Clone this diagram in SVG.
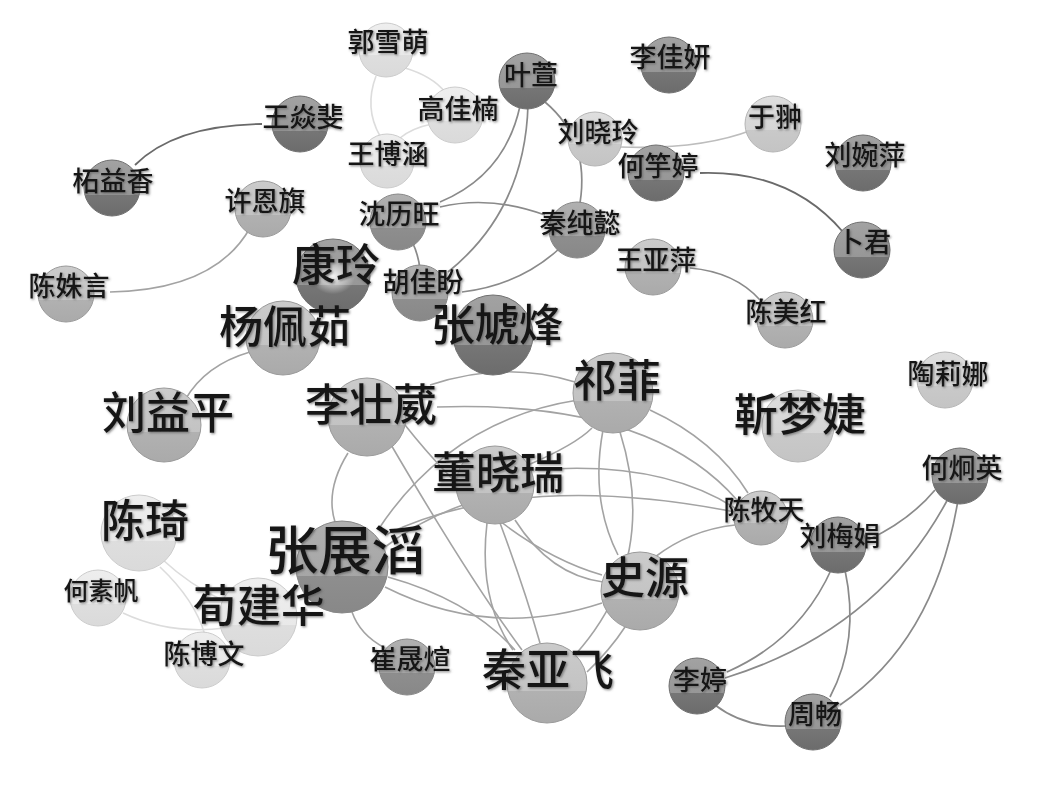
<svg xmlns="http://www.w3.org/2000/svg" width="1038" height="789" viewBox="0 0 1038 789">
<defs>
<linearGradient id="gL" x1="0" y1="0" x2="0" y2="1"><stop offset="0" stop-color="#eeeeee"/><stop offset="0.6" stop-color="#e9e9e9"/><stop offset="0.6" stop-color="#dedede"/><stop offset="1" stop-color="#dadada"/></linearGradient>
<linearGradient id="gL2" x1="0" y1="0" x2="0" y2="1"><stop offset="0" stop-color="#dedede"/><stop offset="0.6" stop-color="#d6d6d6"/><stop offset="0.6" stop-color="#c9c9c9"/><stop offset="1" stop-color="#c4c4c4"/></linearGradient>
<linearGradient id="gM" x1="0" y1="0" x2="0" y2="1"><stop offset="0" stop-color="#cbcbcb"/><stop offset="0.6" stop-color="#c3c3c3"/><stop offset="0.6" stop-color="#b1b1b1"/><stop offset="1" stop-color="#aaaaaa"/></linearGradient>
<linearGradient id="gMD" x1="0" y1="0" x2="0" y2="1"><stop offset="0" stop-color="#b0b0b0"/><stop offset="0.6" stop-color="#a6a6a6"/><stop offset="0.6" stop-color="#8e8e8e"/><stop offset="1" stop-color="#888888"/></linearGradient>
<linearGradient id="gD" x1="0" y1="0" x2="0" y2="1"><stop offset="0" stop-color="#a2a2a2"/><stop offset="0.62" stop-color="#979797"/><stop offset="0.62" stop-color="#767676"/><stop offset="1" stop-color="#6c6c6c"/></linearGradient>
<radialGradient id="gHi" cx="0.5" cy="0.45" r="0.5"><stop offset="0" stop-color="#ffffff" stop-opacity="0.9"/><stop offset="0.45" stop-color="#ffffff" stop-opacity="0.5"/><stop offset="1" stop-color="#ffffff" stop-opacity="0"/></radialGradient>
<filter id="sh" x="-10%" y="-20%" width="120%" height="140%"><feDropShadow dx="1.2" dy="1.2" stdDeviation="0.9" flood-color="#5a5a5a" flood-opacity="0.7"/></filter>
</defs>
<style>
.e{fill:none;stroke:#a3a3a3;stroke-width:1.6}
.ed{fill:none;stroke:#6a6a6a;stroke-width:1.8}
.em{fill:none;stroke:#8a8a8a;stroke-width:1.7}
.el{fill:none;stroke:#dcdcdc;stroke-width:1.6}
.eb{fill:none;stroke:#bdbdbd;stroke-width:1.6}
circle{stroke:#9a9a9a;stroke-width:1}
.L{fill:url(#gL);stroke:#cccccc}
.L2{fill:url(#gL2);stroke:#b5b5b5}
.M{fill:url(#gM)}
.MD{fill:url(#gMD);stroke:#888}
.D{fill:url(#gD);stroke:#707070}
text{font-family:"Noto Sans CJK SC","Noto Sans CJK JP",sans-serif;font-weight:500;fill:#151515;text-anchor:middle;dominant-baseline:central;filter:url(#sh)}
.s{font-size:27px}
.t{font-size:25px}
.b{font-size:44px}
.xb{font-size:53px}
</style>
<rect width="1038" height="789" fill="#ffffff"/>
<g id="edges">
<path class="ed" d="M262,124 Q175,125 135,165"/>
<path class="e" d="M250,228 Q215,290 110,292"/>
<path class="el" d="M405,68 Q432,76 445,92"/>
<path class="el" d="M376,76 Q364,108 380,136"/>
<path class="el" d="M432,124 Q412,128 400,138"/>
<path class="em" d="M520,106 Q505,175 440,202"/>
<path class="em" d="M528,105 Q525,210 448,272"/>
<path class="em" d="M545,102 Q590,140 580,203"/>
<path class="em" d="M440,207 Q490,195 545,215"/>
<path class="em" d="M405,230 Q418,248 420,270"/>
<path class="em" d="M462,292 Q520,285 560,248"/>
<path class="eb" d="M620,147 Q700,150 752,130"/>
<path class="ed" d="M700,173 Q790,170 843,232"/>
<path class="em" d="M690,268 Q735,272 760,300"/>
<path class="e" d="M250,352 Q205,365 185,400"/>
<path class="e" d="M430,385 Q505,360 575,382"/>
<path class="e" d="M437,407 Q650,400 737,500"/>
<path class="e" d="M650,410 Q715,440 748,493"/>
<path class="e" d="M535,470 Q660,460 735,508"/>
<path class="e" d="M385,535 Q520,470 735,512"/>
<path class="e" d="M378,530 Q450,420 578,400"/>
<path class="e" d="M385,547 Q420,520 463,505"/>
<path class="e" d="M348,453 Q325,490 335,522"/>
<path class="e" d="M405,425 Q500,545 602,575"/>
<path class="e" d="M390,443 Q470,580 522,650"/>
<path class="e" d="M592,428 Q575,445 528,465"/>
<path class="e" d="M603,430 Q590,500 618,555"/>
<path class="e" d="M620,432 Q660,560 575,655"/>
<path class="e" d="M515,520 Q550,575 603,582"/>
<path class="e" d="M487,523 Q478,600 513,650"/>
<path class="e" d="M500,523 Q525,590 540,643"/>
<path class="e" d="M385,587 Q490,640 602,603"/>
<path class="e" d="M388,577 Q470,600 515,650"/>
<path class="e" d="M352,612 Q360,635 385,648"/>
<path class="e" d="M625,627 Q610,650 587,672"/>
<path class="e" d="M655,557 Q690,530 735,525"/>
<path class="el" d="M163,560 Q190,585 222,600"/>
<path class="el" d="M160,567 Q195,600 205,635"/>
<path class="el" d="M123,613 Q170,635 225,628"/>
<path class="em" d="M935,490 Q910,520 868,540"/>
<path class="em" d="M950,495 Q880,630 725,678"/>
<path class="em" d="M958,500 Q935,640 840,705"/>
<path class="em" d="M832,568 Q800,640 727,672"/>
<path class="em" d="M845,570 Q860,640 830,697"/>
<path class="em" d="M715,705 Q745,728 787,726"/>
</g>
<g id="n-guoxuemeng"><circle class="L" cx="386" cy="50" r="27"/><text class="s" x="388" y="40">郭雪萌</text></g>
<g id="n-gaojianan"><circle class="L" cx="455" cy="115" r="28"/><text class="s" x="458" y="107">高佳楠</text></g>
<g id="n-wangbohan"><circle class="L" cx="387" cy="161" r="27"/><text class="s" x="388" y="152">王博涵</text></g>
<g id="n-wangyanfei"><circle class="D" cx="300" cy="124" r="28"/><text class="s" x="303" y="115">王焱斐</text></g>
<g id="n-zheyixiang"><circle class="D" cx="112" cy="188" r="28"/><text class="s" x="113" y="179">柘益香</text></g>
<g id="n-xuenqi"><circle class="M" cx="263" cy="209" r="28"/><text class="s" x="265" y="199">许恩旗</text></g>
<g id="n-chenshuyan"><circle class="M" cx="66" cy="294" r="28"/><text class="s" x="69" y="284">陈姝言</text></g>
<g id="n-shenliwang"><circle class="MD" cx="398" cy="222" r="28"/><text class="s" x="399" y="212">沈历旺</text></g>
<g id="n-kangling"><circle class="D" cx="333" cy="276" r="37"/><ellipse cx="333" cy="278" rx="22" ry="18" fill="url(#gHi)"/><text class="b" x="336" y="262">康玲</text></g>
<g id="n-hujiapan"><circle class="MD" cx="420" cy="293" r="28"/><text class="s" x="423" y="280">胡佳盼</text></g>
<g id="n-yangpeiru"><circle class="M" cx="283" cy="338" r="37"/><text class="b" x="285" y="324">杨佩茹</text></g>
<g id="n-zhanghufeng"><circle class="D" cx="493" cy="335" r="40"/><text class="b" x="497" y="322">张虓烽</text></g>
<g id="n-liuxiaoling"><circle class="L2" cx="595" cy="139" r="27"/><text class="s" x="598" y="130">刘晓玲</text></g>
<g id="n-yexuan"><circle class="D" cx="527" cy="81" r="28"/><text class="s" x="531" y="73">叶萱</text></g>
<g id="n-qinchunyi"><circle class="MD" cx="577" cy="230" r="28"/><text class="s" x="580" y="221">秦纯懿</text></g>
<g id="n-lijiayan"><circle class="D" cx="669" cy="65" r="28"/><text class="s" x="670" y="55">李佳妍</text></g>
<g id="n-yuchong"><circle class="L2" cx="773" cy="124" r="28"/><text class="s" x="775" y="115">于翀</text></g>
<g id="n-heyuting"><circle class="D" cx="656" cy="173" r="28"/><text class="s" x="658" y="164">何竽婷</text></g>
<g id="n-liuwanping"><circle class="D" cx="863" cy="163" r="28"/><text class="s" x="865" y="153">刘婉萍</text></g>
<g id="n-bujun"><circle class="D" cx="862" cy="250" r="28"/><text class="s" x="864" y="240">卜君</text></g>
<g id="n-wangyaping"><circle class="M" cx="653" cy="267" r="28"/><text class="s" x="656" y="258">王亚萍</text></g>
<g id="n-chenmeihong"><circle class="M" cx="785" cy="320" r="28"/><text class="s" x="786" y="310">陈美红</text></g>
<g id="n-taolina"><circle class="L2" cx="945" cy="380" r="28"/><text class="s" x="948" y="372">陶莉娜</text></g>
<g id="n-qifei"><circle class="M" cx="613" cy="393" r="40"/><text class="b" x="617" y="378">祁菲</text></g>
<g id="n-jinmengjie"><circle class="L2" cx="798" cy="426" r="36"/><text class="b" x="800" y="412">靳梦婕</text></g>
<g id="n-liuyiping"><circle class="M" cx="164" cy="425" r="37"/><text class="b" x="168" y="410">刘益平</text></g>
<g id="n-lizhuangwei"><circle class="M" cx="367" cy="417" r="39"/><text class="b" x="371" y="402">李壮葳</text></g>
<g id="n-dongxiaorui"><circle class="M" cx="495" cy="485" r="39"/><text class="b" x="498" y="470">董晓瑞</text></g>
<g id="n-chenmutian"><circle class="M" cx="761" cy="518" r="27"/><text class="s" x="764" y="508">陈牧天</text></g>
<g id="n-hejiongying"><circle class="D" cx="960" cy="476" r="28"/><text class="s" x="962" y="466">何炯英</text></g>
<g id="n-liumeijuan"><circle class="D" cx="838" cy="545" r="28"/><text class="s" x="840" y="534">刘梅娟</text></g>
<g id="n-chenqi"><circle class="L" cx="139" cy="533" r="38"/><text class="b" x="145" y="518">陈琦</text></g>
<g id="n-zhangzhantao"><circle class="MD" cx="342" cy="567" r="46"/><text class="xb" x="345" y="547">张展滔</text></g>
<g id="n-hesufan"><circle class="L" cx="98" cy="598" r="28"/><text class="t" x="101" y="589">何素帆</text></g>
<g id="n-xunjianhua"><circle class="L" cx="258" cy="617" r="39"/><text class="b" x="259" y="603">荀建华</text></g>
<g id="n-chenbowen"><circle class="L" cx="202" cy="660" r="28"/><text class="s" x="204" y="652">陈博文</text></g>
<g id="n-cuishengxuan"><circle class="MD" cx="407" cy="667" r="28"/><text class="s" x="410" y="657">崔晟煊</text></g>
<g id="n-shiyuan"><circle class="M" cx="640" cy="591" r="39"/><text class="b" x="645" y="575">史源</text></g>
<g id="n-qinyafei"><circle class="M" cx="547" cy="683" r="40"/><text class="b" x="548" y="667">秦亚飞</text></g>
<g id="n-liting"><circle class="D" cx="697" cy="686" r="28"/><text class="s" x="700" y="678">李婷</text></g>
<g id="n-zhouchang"><circle class="D" cx="813" cy="722" r="28"/><text class="s" x="815" y="712">周畅</text></g>
</svg>
